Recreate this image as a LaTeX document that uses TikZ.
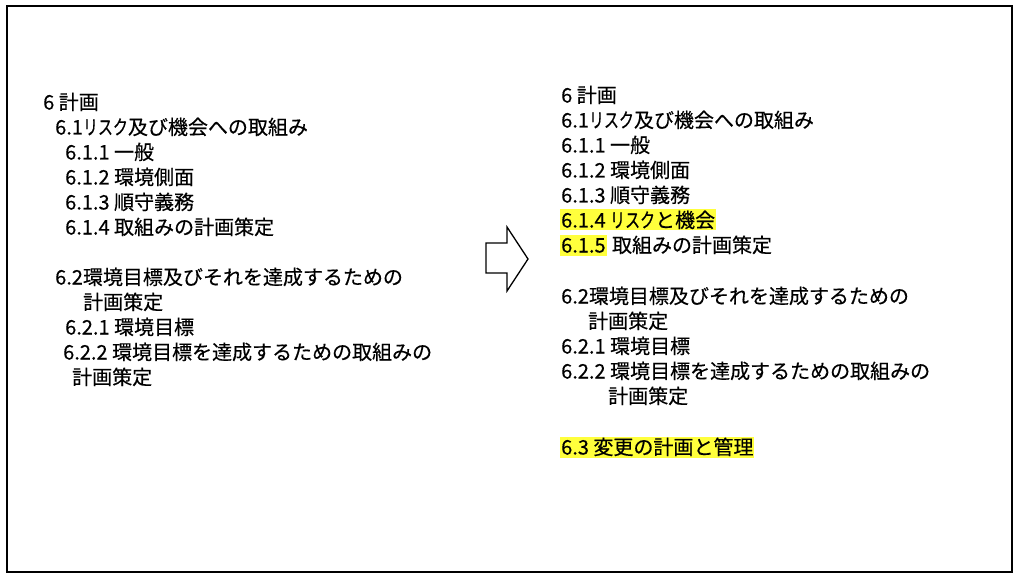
\documentclass[tikz,border=0pt]{standalone}
\usepackage{fontspec}
\setmainfont[FakeBold=0.4]{Noto Sans CJK JP}
\usetikzlibrary{positioning}
\definecolor{hlyellow}{RGB}{255,255,60}
\newcommand{\narrowkana}[1]{\scalebox{0.75}[1]{#1}}
\tikzset{x=1pt,y=-1pt,
  item/.style={anchor=west,inner sep=0pt,text height=17.5pt,text depth=2.5pt,font=\fontsize{20pt}{25pt}\selectfont},
  hl/.style={fill=hlyellow,inner xsep=1pt,inner ysep=0.5pt}}

\begin{document}
\begin{tikzpicture}
              \useasboundingbox (0,0) rectangle (1024,585);
              \draw[line width=2pt] (6.5,6.5) rectangle (1011.5,571.5);

              \node[item] (l1) at (43,102) {6 計画};
              \node[item] (l2) at ([shift={(12,25)}]l1.west) {6.1\narrowkana{リスク}及び機会への取組み};
              \node[item] (l3) at ([shift={(10,25)}]l2.west) {6.1.1 一般};
              \node[item] (l4) at ([shift={(0,25)}]l3.west) {6.1.2 環境側面};
              \node[item] (l5) at ([shift={(0,25)}]l4.west) {6.1.3 順守義務};
              \node[item] (l6) at ([shift={(0,25)}]l5.west) {6.1.4 取組みの計画策定};
              \node[item] (l7) at ([shift={(-10,50)}]l6.west) {6.2環境目標及びそれを達成するための};
              \node[item] (l8) at ([shift={(28,25)}]l7.west) {計画策定};
              \node[item] (l9) at ([shift={(-18,25)}]l8.west) {6.2.1 環境目標};
              \node[item] (l10) at ([shift={(-2,25)}]l9.west) {6.2.2 環境目標を達成するための取組みの};
              \node[item] (l11) at ([shift={(9,25)}]l10.west) {計画策定};

              \draw[line width=1.3pt,line join=miter] (486,243) -- (507,243) -- (507,227) -- (528,259)
                -- (507,291) -- (507,273) -- (486,273) -- cycle;

              \node[item] (r1) at (561,95) {6 計画};
              \node[item] (r2) at ([shift={(0,25)}]r1.west) {6.1\narrowkana{リスク}及び機会への取組み};
              \node[item] (r3) at ([shift={(0,25)}]r2.west) {6.1.1 一般};
              \node[item] (r4) at ([shift={(0,25)}]r3.west) {6.1.2 環境側面};
              \node[item] (r5) at ([shift={(0,25)}]r4.west) {6.1.3 順守義務};
              \node[item,hl] (r6) at ([shift={(-1,25)}]r5.west) {6.1.4 \narrowkana{リスク}と機会};
              \node[item,hl] (r7) at ([shift={(0,25)}]r6.west) {6.1.5};
              \node[item] (r7b) [right=5pt of r7] {取組みの計画策定};
              \node[item] (r8) at ([shift={(1,51)}]r7.west) {6.2環境目標及びそれを達成するための};
              \node[item] (r9) at ([shift={(27,25)}]r8.west) {計画策定};
              \node[item] (r10) at ([shift={(-27,25)}]r9.west) {6.2.1 環境目標};
              \node[item] (r11) at ([shift={(0,25)}]r10.west) {6.2.2 環境目標を達成するための取組みの};
              \node[item] (r12) at ([shift={(47,25)}]r11.west) {計画策定};
              \node[item,hl] (r13) at ([shift={(-48,51)}]r12.west) {6.3 変更の計画と管理};
            \end{tikzpicture}
\end{document}
